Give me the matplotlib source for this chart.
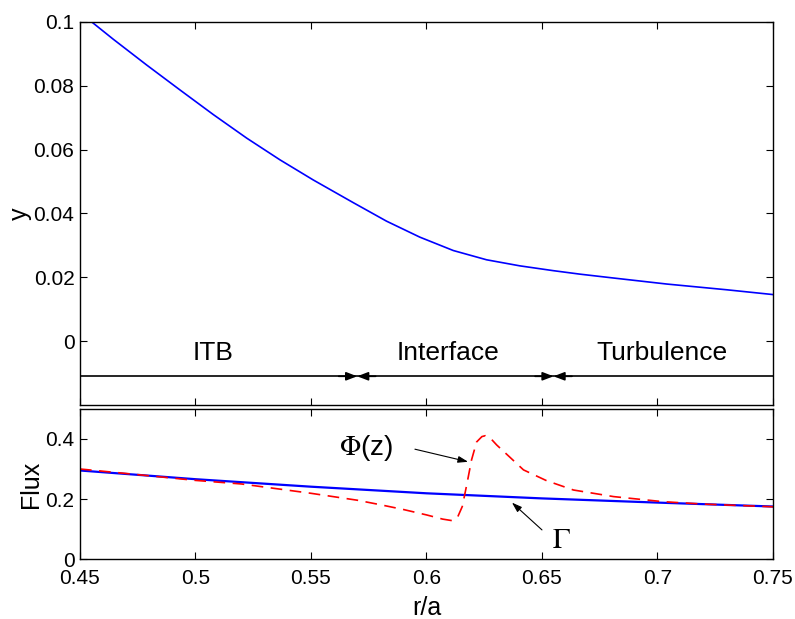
import matplotlib
matplotlib.use("Agg")
import matplotlib.pyplot as plt

plt.rcParams['font.family'] = ['Liberation Sans', 'DejaVu Sans']
plt.rcParams['mathtext.fontset'] = 'stix'

# ---- data ----
r_top = [0.45, 0.4551, 0.4644, 0.4789, 0.4933, 0.5077, 0.5222, 0.5366, 0.551,
         0.5683, 0.5827, 0.5971, 0.6116, 0.626, 0.6404, 0.6548, 0.6664,
         0.6808, 0.704, 0.73, 0.75]
y_top = [0.1031, 0.1000, 0.0946, 0.0865, 0.0787, 0.0710, 0.0636, 0.0568, 0.0505,
         0.0434, 0.0376, 0.0326, 0.0284, 0.0255, 0.0236, 0.0221, 0.0210,
         0.0198, 0.0179, 0.0161, 0.0146]

r_gamma = [0.45, 0.5, 0.55, 0.6, 0.65, 0.7, 0.75]
gamma = [0.295, 0.266, 0.241, 0.219, 0.202, 0.188, 0.175]

r_phi = [0.45, 0.47, 0.50, 0.52, 0.55, 0.57, 0.58, 0.59, 0.60, 0.607, 0.611,
         0.6135, 0.6155, 0.6175, 0.6195, 0.6217, 0.624, 0.6255, 0.628, 0.6304,
         0.636, 0.642, 0.652, 0.6636, 0.681, 0.7025, 0.72, 0.75]
phi = [0.300, 0.285, 0.262, 0.250, 0.219, 0.196, 0.181, 0.165, 0.147, 0.133, 0.128,
       0.140, 0.175, 0.250, 0.330, 0.390, 0.408, 0.411, 0.400, 0.380,
       0.340, 0.297, 0.261, 0.230, 0.208, 0.191, 0.183, 0.174]

boundaries = [0.45, 0.57, 0.655, 0.75]
region_names = ["ITB", "Interface", "Turbulence"]
region_x = [0.5076, 0.6094, 0.702]

xticks = [0.45, 0.5, 0.55, 0.6, 0.65, 0.7, 0.75]
xticklabels = ["0.45", "0.5", "0.55", "0.6", "0.65", "0.7", "0.75"]
yticks_top = [0, 0.02, 0.04, 0.06, 0.08, 0.1]
yticklabels_top = ["0", "0.02", "0.04", "0.06", "0.08", "0.1"]
yticks_bot = [0, 0.2, 0.4]
yticklabels_bot = ["0", "0.2", "0.4"]

fig = plt.figure(figsize=(7.95, 6.19), dpi=100)
ax1 = fig.add_axes([0.1006, 0.3457, 0.8717, 0.6188])
ax2 = fig.add_axes([0.1006, 0.0969, 0.8717, 0.2424])

for ax in (ax1, ax2):
    ax.tick_params(direction='in', top=True, right=True, length=5, width=0.8,
                   labelsize=15, pad=4)
    for s in ax.spines.values():
        s.set_linewidth(1.0)
    ax.set_xlim(0.45, 0.75)
    ax.set_xticks(xticks)
ax2.tick_params(axis='x', pad=7)

# top
ax1.plot(r_top, y_top, color='blue', lw=1.2)
ax1.set_ylim(-0.02, 0.1)
ax1.set_yticks(yticks_top)
ax1.set_yticklabels(yticklabels_top)
ax1.set_xticklabels([])
ax1.set_ylabel("y", fontsize=18, labelpad=1)

yline = -0.011
ax1.plot([boundaries[0], boundaries[-1]], [yline, yline], color='black', lw=1.2)
for b in boundaries[1:-1]:
    for d in (-0.008, 0.008):
        ax1.annotate('', xy=(b, yline), xytext=(b + d, yline),
                     arrowprops=dict(arrowstyle='-|>,head_length=0.65,head_width=0.25',
                                     color='black', lw=1.2, shrinkA=0, shrinkB=0))
for name, xc in zip(region_names, region_x):
    ax1.text(xc, -0.0038, name, fontsize=19, ha='center', va='center')

# bottom
ax2.plot(r_gamma, gamma, color='blue', lw=1.6)
ax2.plot(r_phi, phi, color='red', lw=1.2, ls=(0, (7, 4.5)))
ax2.set_ylim(0, 0.5)
ax2.set_yticks(yticks_bot)
ax2.set_yticklabels(yticklabels_bot)
ax2.set_xticklabels(xticklabels)
ax2.set_ylabel("Flux", fontsize=18, labelpad=2)
ax2.set_xlabel("r/a", fontsize=18, labelpad=6)

ax2.annotate('', xy=(0.618, 0.324), xytext=(0.595, 0.366),
             arrowprops=dict(arrowstyle='-|>,head_length=0.6,head_width=0.2',
                             color='black', lw=0.8, shrinkA=0, shrinkB=0))
ax2.text(0.574, 0.37, r"$\Phi$(z)", fontsize=20, ha='center', va='center')
ax2.annotate('', xy=(0.637, 0.188), xytext=(0.650, 0.097),
             arrowprops=dict(arrowstyle='-|>,head_length=0.6,head_width=0.2',
                             color='black', lw=0.8, shrinkA=0, shrinkB=0))
ax2.text(0.6585, 0.063, r"$\Gamma$", fontsize=21, ha='center', va='center')

fig.savefig("out.png", dpi=100)
